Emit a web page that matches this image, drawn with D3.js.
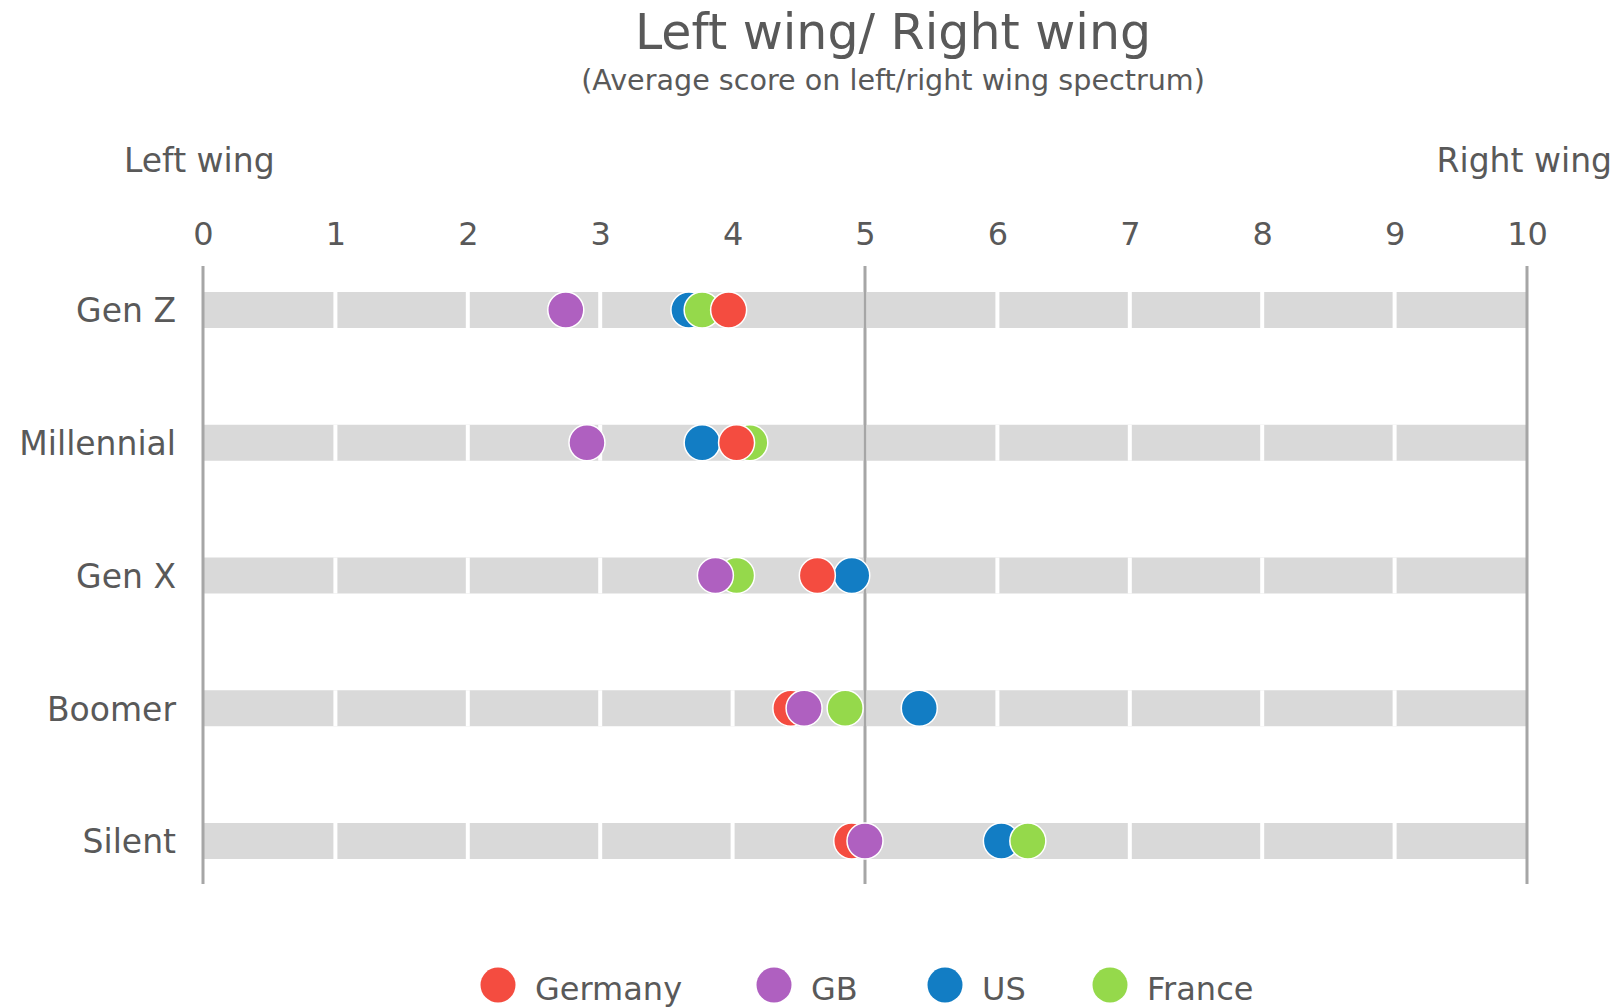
<!DOCTYPE html>
<html>
<head>
<meta charset="utf-8">
<script src="https://cdn.jsdelivr.net/npm/d3@7"></script>
<style>
  body { margin: 0; background: #fff; }
  text { font-family: "DejaVu Sans", sans-serif; fill: #595959; }
</style>
</head>
<body>
<div id="chart"></div>
<script>
// chart data
const generations = ["Gen Z", "Millennial", "Gen X", "Boomer", "Silent"];
const countries = ["Germany", "GB", "US", "France"];
const colors = ["#F44C40", "#AF60C0", "#127DC4", "#95D94B"];
const germany = [3.97, 4.03, 4.64, 4.44, 4.90];
const gb      = [2.74, 2.90, 3.87, 4.54, 5.00];
const us      = [3.67, 3.77, 4.90, 5.41, 6.03];
const france  = [3.77, 4.13, 4.03, 4.85, 6.23];
const xTicks = [0, 1, 2, 3, 4, 5, 6, 7, 8, 9, 10];
const refLines = [0, 5, 10];
// order the dots are painted in (later ones on top)
const drawOrder = ["US", "France", "Germany", "GB"];

const svgWidth = 1621;
const svgHeight = 1007;

let svg = d3.select("#chart")
  .append("svg")
  .attr("width", svgWidth)
  .attr("height", svgHeight);

const series = {Germany: germany, GB: gb, US: us, France: france};
const color = d3.scaleOrdinal().domain(countries).range(colors);

const xScale = d3.scaleLinear().domain([0, 10]).range([203, 1527]);
const yScale = d3.scalePoint().domain(generations).range([310, 841]);
const barH = 36;

// title
svg.append("text")
  .attr("x", 893).attr("y", 49)
  .attr("text-anchor", "middle")
  .style("font-size", "49px")
  .text("Left wing/ Right wing");
svg.append("text")
  .attr("x", 893).attr("y", 90)
  .attr("text-anchor", "middle")
  .style("font-size", "28.6px")
  .text("(Average score on left/right wing spectrum)");

// end labels
svg.append("text")
  .attr("x", 124).attr("y", 172)
  .style("font-size", "33px")
  .text("Left wing");
svg.append("text")
  .attr("x", 1612).attr("y", 172)
  .attr("text-anchor", "end")
  .style("font-size", "33px")
  .text("Right wing");

// grey bars with white gaps at each integer
svg.append("g").selectAll("rect")
  .data(generations)
  .join("rect")
  .attr("x", xScale(0))
  .attr("width", xScale(10) - xScale(0))
  .attr("y", d => yScale(d) - barH / 2)
  .attr("height", barH)
  .attr("fill", "#D9D9D9");

let gaps = svg.append("g");
generations.forEach(function(g) {
  gaps.selectAll(null)
    .data(xTicks.slice(1, -1))
    .join("line")
    .attr("x1", d => xScale(d)).attr("x2", d => xScale(d))
    .attr("y1", yScale(g) - barH / 2).attr("y2", yScale(g) + barH / 2)
    .attr("stroke", "#fff")
    .attr("stroke-width", 4);
});

// vertical reference lines
svg.append("g").selectAll("line")
  .data(refLines)
  .join("line")
  .attr("x1", d => xScale(d)).attr("x2", d => xScale(d))
  .attr("y1", 266).attr("y2", 884)
  .attr("stroke", "#A6A6A6")
  .attr("stroke-width", 3);

// top axis
let xAxis = svg.append("g")
  .attr("transform", "translate(0,251)")
  .call(d3.axisTop(xScale).tickValues(xTicks).tickSize(0).tickPadding(6));
xAxis.select(".domain").remove();
xAxis.selectAll("text")
  .style("font-size", "32px")
  .style("font-family", "DejaVu Sans, sans-serif")
  .attr("fill", "#595959");

// left axis
let yAxis = svg.append("g")
  .attr("transform", "translate(176,0)")
  .call(d3.axisLeft(yScale).tickSize(0).tickPadding(0));
yAxis.select(".domain").remove();
yAxis.selectAll("text")
  .style("font-size", "33px")
  .style("font-family", "DejaVu Sans, sans-serif")
  .attr("fill", "#595959")
  .attr("dy", "0.36em");

// dots
let points = [];
drawOrder.forEach(function(c) {
  generations.forEach(function(g, i) {
    points.push({country: c, gen: g, value: series[c][i]});
  });
});
svg.append("g").selectAll("circle")
  .data(points)
  .join("circle")
  .attr("cx", d => xScale(d.value))
  .attr("cy", d => yScale(d.gen))
  .attr("r", 18)
  .attr("fill", d => color(d.country))
  .attr("stroke", "#fff")
  .attr("stroke-width", 1.5);

// legend
const legendX = [498, 774, 945, 1110];
let legend = svg.append("g").selectAll("g")
  .data(countries)
  .join("g")
  .attr("transform", (d, i) => "translate(" + legendX[i] + ",985)");
legend.append("circle")
  .attr("r", 17.5)
  .attr("fill", d => color(d));
legend.append("text")
  .attr("x", 37).attr("y", 15)
  .style("font-size", "32px")
  .text(d => d);
</script>
</body>
</html>
